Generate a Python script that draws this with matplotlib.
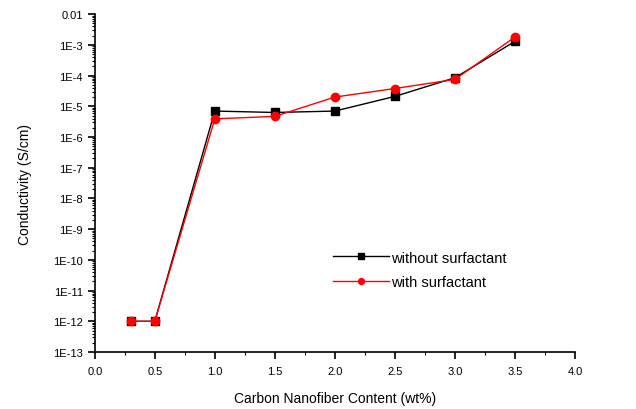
import matplotlib
matplotlib.use('Agg')
import matplotlib.pyplot as plt
from matplotlib.ticker import FixedLocator, FixedFormatter, LogLocator, MultipleLocator, NullFormatter

plt.rcParams['font.family'] = ['Liberation Sans', 'DejaVu Sans']

# CNF loading (wt%) and measured conductivity (S/cm)
content = [0.3, 0.5, 1.0, 1.5, 2.0, 2.5, 3.0, 3.5]
cond_without = [1e-12, 1e-12, 7.0e-6, 6.3e-6, 7.0e-6, 2.1e-5, 8.5e-5, 1.3e-3]
cond_with = [1e-12, 1e-12, 3.9e-6, 4.7e-6, 2.0e-5, 3.8e-5, 7.5e-5, 1.8e-3]

y_ticks = [10.0 ** e for e in range(-13, -1)]
y_labels = ['1E-%d' % -e for e in range(-13, -2)] + ['0.01']

fig = plt.figure(figsize=(6.36, 4.10), dpi=100)
ax = fig.add_axes([0.149, 0.139, 0.755, 0.824])

ax.plot(content, cond_without, color='black', marker='s', markersize=6, linewidth=1.0,
        label='without surfactant')
ax.plot(content, cond_with, color='red', marker='o', markersize=6, linewidth=1.0,
        label='with surfactant')

ax.set_yscale('log')
ax.set_ylim(1e-13, 1e-2)
ax.set_xlim(0, 4.0)
ax.yaxis.set_major_locator(FixedLocator(y_ticks))
ax.yaxis.set_major_formatter(FixedFormatter(y_labels))
ax.yaxis.set_minor_locator(LogLocator(base=10, subs=range(2, 10), numticks=30))
ax.yaxis.set_minor_formatter(NullFormatter())
ax.xaxis.set_major_locator(MultipleLocator(0.5))
ax.xaxis.set_minor_locator(MultipleLocator(0.25))
ax.xaxis.set_major_formatter(matplotlib.ticker.FormatStrFormatter('%.1f'))

for side in ('top', 'right'):
    ax.spines[side].set_visible(False)
ax.spines['left'].set_linewidth(1.2)
ax.spines['bottom'].set_linewidth(1.2)
ax.tick_params(which='major', direction='out', length=5, width=1.2, labelsize=8, color='black')
ax.tick_params(axis='x', which='major', pad=5)
ax.tick_params(which='minor', direction='out', length=2.5, width=0.8)

ax.set_xlabel('Carbon Nanofiber Content (wt%)', fontsize=10, labelpad=11)
ax.set_ylabel('Conductivity (S/cm)', fontsize=10, labelpad=15)

ax.legend(loc='upper left', bbox_to_anchor=(0.48, 0.322), frameon=False, fontsize=10.5,
          handlelength=3.9, handletextpad=0.1, labelspacing=0.75, borderpad=0,
          markerscale=0.7)

fig.savefig('out.png', dpi=100)
